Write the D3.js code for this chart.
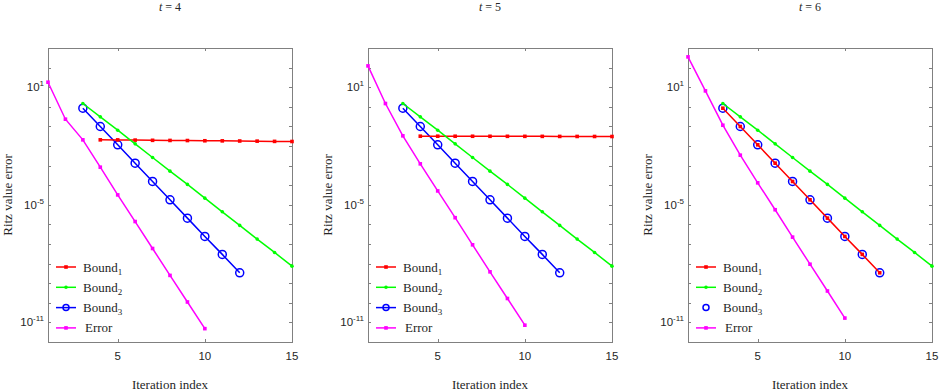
<!DOCTYPE html>
<html>
<head>
<meta charset="utf-8">
<script src="https://cdn.jsdelivr.net/npm/d3@7"></script>
<style>
  body { margin: 0; background: #fff; }
  svg { display: block; }
</style>
</head>
<body>
<div class="chart"></div>
<script>
// values
var titles = ["4", "5", "6"];

var error4 = [18.0, 0.233, 2.06e-2, 8.3e-4, 3.2e-5, 1.4e-6, 5.9e-8, 2.5e-9, 1.1e-10, 4.8e-12];
var error5 = [122, 1.47, 3.3e-2, 1.23e-3, 5.1e-5, 2.2e-6, 9.1e-8, 3.8e-9, 1.66e-10, 7.2e-12];
var error6 = [352, 6.5, 0.115, 3.4e-3, 1.32e-4, 5.6e-6, 2.24e-7, 9.3e-9, 4.0e-10, 1.66e-11];

var bound2 = [1.47, 0.307, 6.4e-2, 1.29e-2, 2.59e-3, 5.2e-4, 1.10e-4, 2.19e-5, 4.4e-6, 8.9e-7, 1.78e-7, 3.7e-8, 7.4e-9];
var bound3 = [0.85, 9.9e-2, 1.15e-2, 1.33e-3, 1.55e-4, 1.80e-5, 2.09e-6, 2.43e-7, 2.95e-8, 3.4e-9];

var bound1_4 = [2.06e-2, 2.05e-2, 2.0e-2, 1.95e-2, 1.92e-2, 1.9e-2, 1.85e-2, 1.83e-2, 1.8e-2, 1.77e-2, 1.72e-2, 1.70e-2];
var bound1_5 = [3.17e-2, 3.16e-2, 3.15e-2, 3.14e-2, 3.13e-2, 3.12e-2, 3.11e-2, 3.10e-2, 3.08e-2, 3.07e-2, 3.06e-2, 3.05e-2];
var bound1_6 = bound3.slice();

var yTicks = [1e1, 1e-5, 1e-11];
var yTickExp = ["1", "-5", "-11"];
var xTicks = [5, 10, 15];

var panels = [
  {t: titles[0], left: 48,  b1: bound1_4, b1start: 4, err: error4, b3line: true},
  {t: titles[1], left: 368, b1: bound1_5, b1start: 4, err: error5, b3line: true},
  {t: titles[2], left: 688, b1: bound1_6, b1start: 3, err: error6, b3line: false}
];

var W = 939, H = 392;
var plotTop = 48, pw = 244, ph = 294;
var axisCol = "#808080", textCol = "#262626";
var serif = "'Liberation Serif', 'DejaVu Serif', serif";
var sans = "'Liberation Sans', Arial, sans-serif";

var svg = d3.select("div.chart").append("svg")
  .attr("width", W).attr("height", H);

function drawPanel(p) {
  var x = d3.scaleLinear().domain([1, 15]).range([p.left, p.left + pw]);
  var y = d3.scaleLog().domain([1e-12, 1e3]).range([plotTop + ph, plotTop]);
  var g = svg.append("g");

  // box
  g.append("rect").attr("x", p.left + 0.5).attr("y", plotTop + 0.5).attr("width", pw).attr("height", ph)
    .attr("fill", "none").attr("stroke", axisCol).attr("stroke-width", 1);

  // y ticks every decade, inside, both sides
  var decades = d3.range(-12, 4).map(function(e){ return Math.pow(10, e); });
  decades.forEach(function(v){
    var yy = Math.round(y(v)) + 0.5;
    g.append("line").attr("x1", p.left).attr("x2", p.left + 3).attr("y1", yy).attr("y2", yy).attr("stroke", axisCol);
    g.append("line").attr("x1", p.left + pw - 3).attr("x2", p.left + pw).attr("y1", yy).attr("y2", yy).attr("stroke", axisCol);
  });
  xTicks.forEach(function(v){
    var xx = Math.round(x(v)) + 0.5;
    g.append("line").attr("x1", xx).attr("x2", xx).attr("y1", plotTop + ph).attr("y2", plotTop + ph - 3).attr("stroke", axisCol);
    g.append("line").attr("x1", xx).attr("x2", xx).attr("y1", plotTop).attr("y2", plotTop + 3).attr("stroke", axisCol);
    g.append("text").attr("x", x(v)).attr("y", plotTop + ph + 18)
      .attr("text-anchor", "middle").attr("font-family", sans).attr("font-size", 11.5)
      .attr("fill", textCol).text(v);
  });
  yTicks.forEach(function(v, i){
    var t = g.append("text").attr("x", p.left - 4).attr("y", y(v) + 4)
      .attr("text-anchor", "end").attr("font-family", sans).attr("font-size", 11.5).attr("fill", textCol);
    t.append("tspan").text("10");
    t.append("tspan").attr("dy", -5).attr("font-size", 8).text(yTickExp[i]);
  });

  // title
  var tt = g.append("text").attr("x", p.left + pw / 2).attr("y", 11)
    .attr("text-anchor", "middle").attr("font-family", serif).attr("font-size", 12).attr("fill", textCol);
  tt.append("tspan").attr("font-style", "italic").text("t");
  tt.append("tspan").text(" = " + p.t);

  // axis labels
  g.append("text").attr("x", p.left + pw / 2).attr("y", 389)
    .attr("text-anchor", "middle").attr("font-family", serif).attr("font-size", 13).attr("fill", textCol)
    .text("Iteration index");
  g.append("text").attr("transform", "translate(" + (p.left - 36) + "," + (plotTop + ph / 2) + ") rotate(-90)")
    .attr("text-anchor", "middle").attr("font-family", serif).attr("font-size", 13).attr("fill", textCol)
    .text("Ritz value error");

  var line = d3.line().x(function(d){ return x(d[0]); }).y(function(d){ return y(d[1]); });
  function pts(vals, start) { return vals.map(function(v, i){ return [start + i, v]; }); }

  var plot = g.append("g");

  // Bound3 (blue circles)
  var b3 = pts(bound3, 3);
  if (p.b3line) plot.append("path").attr("d", line(b3)).attr("fill", "none").attr("stroke", "#0000ff").attr("stroke-width", 1.5);
  plot.selectAll(".b3").data(b3).enter().append("circle")
    .attr("cx", function(d){ return x(d[0]); }).attr("cy", function(d){ return y(d[1]); })
    .attr("r", 4).attr("fill", "none").attr("stroke", "#0000ff").attr("stroke-width", 1.5);

  // Bound1 (red)
  var b1 = pts(p.b1, p.b1start);
  plot.append("path").attr("d", line(b1)).attr("fill", "none").attr("stroke", "#ff0000").attr("stroke-width", 1.5);
  plot.selectAll(".b1").data(b1).enter().append("rect")
    .attr("x", function(d){ return x(d[0]) - 1.8; }).attr("y", function(d){ return y(d[1]) - 1.8; })
    .attr("width", 3.6).attr("height", 3.6).attr("fill", "#ff0000");

  // Bound2 (green)
  var b2 = pts(bound2, 3);
  plot.append("path").attr("d", line(b2)).attr("fill", "none").attr("stroke", "#00ff00").attr("stroke-width", 1.5);
  plot.selectAll(".b2").data(b2).enter().append("circle")
    .attr("cx", function(d){ return x(d[0]); }).attr("cy", function(d){ return y(d[1]); })
    .attr("r", 1.8).attr("fill", "#00ff00");

  // Error (magenta)
  var er = pts(p.err, 1);
  plot.append("path").attr("d", line(er)).attr("fill", "none").attr("stroke", "#ff00ff").attr("stroke-width", 1.5);
  plot.selectAll(".er").data(er).enter().append("rect")
    .attr("x", function(d){ return x(d[0]) - 1.8; }).attr("y", function(d){ return y(d[1]) - 1.8; })
    .attr("width", 3.6).attr("height", 3.6).attr("fill", "#ff00ff");

  // legend
  var items = [
    {name: "Bound", sub: "1", col: "#ff0000", mark: "sq", line: true},
    {name: "Bound", sub: "2", col: "#00ff00", mark: "dot", line: true},
    {name: "Bound", sub: "3", col: "#0000ff", mark: "circ", line: p.b3line},
    {name: "Error", sub: null, col: "#ff00ff", mark: "sq", line: true}
  ];
  var lg = g.append("g");
  items.forEach(function(it, i){
    var ly = 267 + i * 20.3;
    var lx0 = p.left + 8, lx1 = p.left + 28, lm = p.left + 18;
    if (it.line) lg.append("line").attr("x1", lx0).attr("x2", lx1).attr("y1", ly).attr("y2", ly)
      .attr("stroke", it.col).attr("stroke-width", 1.5);
    if (it.mark == "sq") lg.append("rect").attr("x", lm - 1.8).attr("y", ly - 1.8).attr("width", 3.6).attr("height", 3.6).attr("fill", it.col);
    else if (it.mark == "dot") lg.append("circle").attr("cx", lm).attr("cy", ly).attr("r", 1.8).attr("fill", it.col);
    else lg.append("circle").attr("cx", lm).attr("cy", ly).attr("r", 3).attr("fill", "none").attr("stroke", it.col).attr("stroke-width", 1.5);
    var tx = lg.append("text").attr("x", p.left + (it.sub ? 35 : 37)).attr("y", ly + 4.5)
      .attr("font-family", serif).attr("font-size", 13).attr("fill", textCol);
    tx.append("tspan").text(it.name);
    if (it.sub) tx.append("tspan").attr("dy", 3).attr("font-size", 9).text(it.sub);
  });
}

panels.forEach(drawPanel);
</script>
</body>
</html>
